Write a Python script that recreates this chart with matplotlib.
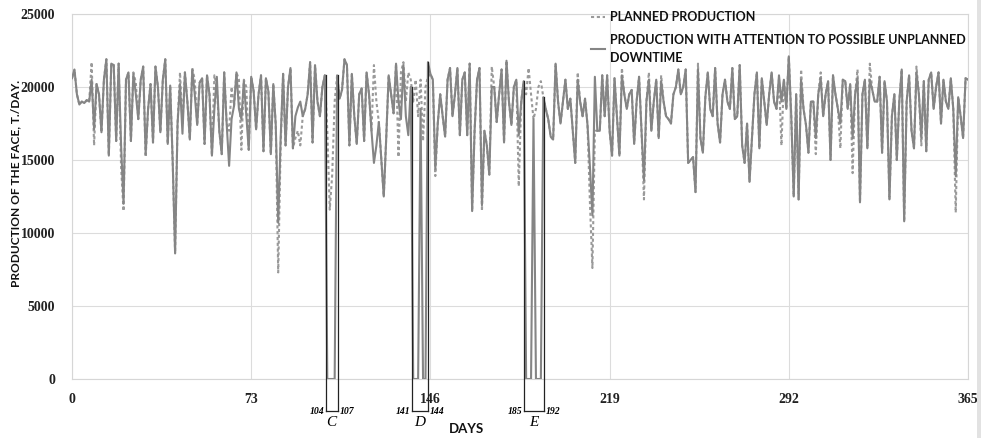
"""
Planned vs. actual face production over a year, with unplanned downtime windows C, D, E.
Writes out.png (985x438).
"""

import numpy as np
import matplotlib.pyplot as plt
from matplotlib.patches import Rectangle

# daily values, thousands of t/day, days 0..365
planned_k = [
    20.6, 21.2, 19.5, 18.8, 19.0, 18.9, 19.1, 19.0, 21.7, 16.0,
    20.2, 19.5, 16.9, 20.5, 21.9, 15.3, 21.6, 21.5, 16.3, 21.6,
    14.5, 11.5, 20.5, 21.0, 16.3, 21.0, 20.3, 17.8, 20.5, 21.4,
    15.2, 18.5, 20.2, 16.2, 21.4, 20.0, 16.9, 20.5, 21.9, 16.1,
    20.1, 15.0, 8.6, 17.5, 21.0, 17.5, 21.0, 19.0, 16.4, 21.3,
    20.5, 17.4, 20.3, 20.6, 16.1, 20.8, 19.5, 15.3, 20.8, 20.0,
    17.0, 15.4, 21.0, 17.5, 17.0, 20.0, 18.7, 21.0, 20.5, 15.7,
    20.5, 20.0, 15.7, 20.7, 19.7, 17.1, 19.5, 20.8, 15.6, 20.6,
    19.7, 15.4, 20.2, 17.4, 7.3, 16.0, 20.9, 16.0, 20.0, 21.3,
    15.8, 16.5, 17.0, 16.0, 18.0, 18.5, 19.5, 21.7, 16.2, 21.5,
    19.0, 18.0, 20.0, 20.8, 17.0, 11.6, 14.0, 19.0, 20.8, 19.2,
    19.8, 21.9, 21.5, 16.0, 20.9, 18.0, 16.1, 19.5, 19.9, 16.3,
    21.0, 19.5, 17.0, 21.5, 19.0, 17.6, 15.0, 12.5, 16.5, 20.8,
    19.5, 18.2, 21.6, 15.2, 21.0, 21.7, 19.0, 21.0, 20.5, 19.0,
    20.5, 18.0, 20.5, 16.3, 20.0, 20.7, 20.9, 20.5, 13.9, 17.5,
    19.5, 18.0, 16.6, 20.5, 21.3, 18.0, 19.5, 21.3, 16.7, 20.5,
    21.0, 16.7, 21.6, 11.5, 17.0, 20.5, 21.3, 11.5, 17.0, 16.0,
    14.0, 21.4, 20.0, 17.6, 19.5, 21.2, 16.2, 21.8, 19.0, 17.4,
    20.0, 20.5, 13.2, 19.0, 20.4, 19.5, 21.3, 19.5, 17.8, 18.5,
    20.0, 20.4, 19.3, 18.5, 17.8, 16.6, 16.4, 21.6, 19.0, 17.5,
    19.0, 20.5, 18.5, 19.2, 17.0, 14.8, 21.0, 19.0, 18.0, 19.2,
    17.4, 12.0, 7.6, 17.0, 17.0, 17.0, 20.8, 18.0, 20.8, 17.0,
    15.3, 20.6, 18.0, 15.3, 21.3, 19.5, 18.5, 19.5, 19.8, 16.1,
    19.0, 20.7, 17.0, 12.3, 19.0, 21.0, 17.0, 19.0, 20.5, 16.5,
    20.8, 19.0, 18.0, 17.8, 17.5, 19.5, 20.0, 21.2, 19.5, 20.0,
    21.2, 14.8, 15.0, 15.2, 12.8, 21.6, 16.5, 15.5, 19.3, 21.0,
    18.5, 18.0, 21.3, 17.5, 16.2, 19.5, 20.5, 19.0, 18.5, 21.3,
    17.8, 18.0, 21.5, 16.0, 14.8, 17.5, 13.5, 16.5, 19.5, 21.0,
    15.8, 20.6, 19.0, 17.4, 19.5, 21.0, 19.0, 18.5, 20.5, 16.0,
    20.5, 18.5, 22.1, 18.0, 12.5, 19.5, 12.3, 21.2, 18.5, 17.4,
    15.5, 19.0, 19.0, 15.4, 19.5, 21.0, 18.0, 19.5, 20.4, 15.0,
    20.8, 19.5, 18.5, 15.8, 20.5, 20.4, 18.5, 20.2, 14.1, 19.5,
    21.2, 12.1, 19.5, 20.5, 15.8, 21.6, 19.8, 19.0, 19.0, 20.7,
    15.5, 20.4, 19.0, 12.3, 18.0, 19.5, 15.0, 19.0, 21.2, 10.8,
    19.0, 20.8, 17.0, 15.8, 21.4, 19.5, 16.0, 20.4, 15.6, 20.5,
    21.0, 18.5, 20.0, 21.0, 17.5, 20.5, 19.0, 18.5, 20.6, 18.5,
    11.4, 19.3, 18.0, 16.5, 20.6, 20.5,
]

actual_k = [
    20.6, 21.2, 19.5, 18.8, 19.0, 18.9, 19.1, 19.0, 20.5, 17.1,
    20.2, 19.5, 16.9, 20.5, 21.9, 15.3, 21.6, 21.5, 16.3, 21.6,
    16.0, 12.0, 20.5, 21.0, 16.3, 20.9, 19.5, 17.8, 20.5, 21.4,
    15.4, 18.5, 20.2, 16.2, 21.4, 20.0, 16.9, 20.5, 21.9, 16.1,
    20.1, 15.0, 8.6, 17.5, 20.2, 16.8, 21.0, 19.0, 16.4, 21.2,
    19.5, 17.4, 20.3, 20.6, 16.1, 20.8, 19.5, 15.3, 18.5, 20.7,
    17.0, 15.4, 21.0, 17.5, 14.6, 17.8, 18.7, 21.0, 18.5, 17.8,
    20.4, 18.0, 15.7, 20.7, 19.7, 17.1, 19.5, 20.8, 15.6, 20.6,
    19.7, 15.4, 20.2, 17.4, 10.7, 16.5, 20.9, 16.0, 20.0, 21.3,
    15.8, 18.0, 18.6, 19.0, 18.0, 18.5, 19.5, 21.7, 16.2, 21.5,
    19.0, 18.0, 20.0, 20.8, 0, 0, 0, 0, 20.8, 19.2,
    19.8, 21.9, 21.5, 16.0, 20.9, 18.0, 16.1, 19.5, 19.9, 16.3,
    21.0, 19.5, 17.0, 14.8, 16.0, 17.6, 15.0, 12.5, 16.5, 20.8,
    19.5, 18.2, 21.6, 19.0, 17.8, 21.5, 18.0, 16.7, 20.0, 0,
    0, 0, 18.5, 0, 0, 21.7, 20.9, 20.5, 14.4, 17.5,
    19.5, 18.0, 16.6, 20.5, 21.3, 18.0, 19.5, 21.3, 16.7, 20.5,
    21.0, 16.7, 21.6, 11.5, 17.0, 20.5, 21.3, 11.9, 17.0, 16.0,
    14.0, 20.0, 20.0, 17.6, 19.5, 21.2, 16.2, 21.8, 19.0, 17.4,
    20.0, 20.5, 16.7, 19.0, 20.4, 0, 0, 0, 17.8, 0,
    0, 0, 19.3, 18.5, 17.8, 16.6, 16.4, 21.6, 19.0, 17.5,
    19.0, 20.5, 18.5, 19.2, 17.0, 14.8, 20.5, 19.0, 18.0, 19.2,
    17.4, 14.5, 11.2, 20.7, 17.0, 17.0, 20.8, 18.0, 20.8, 17.0,
    15.3, 20.6, 18.0, 15.3, 20.8, 19.5, 18.5, 19.5, 19.8, 16.1,
    19.0, 20.7, 17.0, 13.6, 19.0, 20.5, 17.0, 19.0, 20.5, 16.5,
    20.4, 19.0, 18.0, 17.8, 17.5, 19.5, 20.0, 21.2, 19.5, 20.0,
    21.2, 14.8, 15.0, 15.2, 12.8, 21.2, 16.5, 15.5, 19.3, 21.0,
    18.5, 18.0, 21.3, 17.5, 16.2, 19.5, 20.5, 19.0, 18.5, 21.3,
    17.8, 18.0, 21.5, 16.0, 14.8, 17.5, 13.5, 16.5, 19.5, 21.0,
    15.8, 20.6, 19.0, 17.4, 19.5, 21.0, 19.0, 18.5, 20.8, 19.0,
    20.5, 18.5, 22.1, 18.0, 12.5, 19.5, 12.3, 20.5, 18.5, 17.4,
    15.5, 19.0, 19.0, 16.5, 19.5, 20.6, 18.0, 19.5, 20.4, 15.0,
    20.8, 19.5, 18.5, 17.5, 20.5, 20.4, 18.5, 20.2, 16.5, 19.5,
    20.6, 12.1, 19.5, 20.5, 15.8, 20.5, 19.8, 19.0, 19.0, 20.7,
    15.5, 20.4, 19.0, 12.3, 18.0, 19.5, 15.0, 19.0, 21.2, 10.8,
    19.0, 20.8, 17.0, 15.8, 21.0, 19.5, 16.5, 20.4, 15.6, 20.5,
    21.0, 18.5, 20.0, 21.0, 17.5, 20.5, 19.0, 18.5, 20.6, 18.5,
    13.9, 19.3, 18.0, 16.5, 20.6, 20.5,
]

x_ticks = [0, 73, 146, 219, 292, 365]
y_ticks = [0, 5000, 10000, 15000, 20000, 25000]

# downtime windows: bracket edges (days), edge labels, letter
win_left = [103.3, 138.5, 184.0]
win_right = [108.3, 145.0, 192.2]
win_lab_left = ["104", "141", "185"]
win_lab_right = ["107", "144", "192"]
win_letter = ["C", "D", "E"]

SERIF = "Liberation Serif"
SANS = "Lato"


def main():
    days = np.arange(len(planned_k))
    planned = np.array(planned_k) * 1000
    actual = np.array(actual_k) * 1000

    fig = plt.figure(figsize=(9.85, 4.38), dpi=100)
    ax = fig.add_axes([72 / 985, 1 - 379 / 438, 896 / 985, 365 / 438])

    ax.plot(days, planned, color="#9a9a9a", lw=1.5, dashes=(1.5, 1.3),
            label="PLANNED PRODUCTION", zorder=2)
    ax.plot(days, actual, color="#858585", lw=1.5, solid_joinstyle="round",
            label="PRODUCTION WITH ATTENTION TO POSSIBLE UNPLANNED\nDOWNTIME", zorder=3)

    ax.set_xlim(0, 365)
    ax.set_ylim(0, 25000)
    ax.set_xticks(x_ticks)
    ax.set_yticks(y_ticks)
    ax.grid(True, color="#dcdcdc", lw=0.8)
    ax.set_axisbelow(True)
    for s in ax.spines.values():
        s.set_color("#d6d6d6")
        s.set_linewidth(0.8)
    ax.tick_params(length=0)
    ax.tick_params(axis="x", pad=10)
    ax.tick_params(axis="y", pad=12)
    for lab in ax.get_xticklabels() + ax.get_yticklabels():
        lab.set_family(SERIF)
        lab.set_fontweight("bold")
        lab.set_fontsize(10)
        lab.set_color("#222222")

    # brackets for the downtime windows C, D, E
    y_bot = -2200
    for xl, xr, ll, lr, let in zip(win_left, win_right, win_lab_left,
                                   win_lab_right, win_letter):
        yl = actual[int(round(xl))]
        yr = actual[int(round(xr))]
        kw = dict(color="#222222", lw=0.9, clip_on=False, zorder=4)
        ax.plot([xl, xl], [yl, y_bot], **kw)
        ax.plot([xr, xr], [yr, y_bot], **kw)
        ax.plot([xl, xr], [y_bot, y_bot], **kw)
        ax.text(xl - 0.6, y_bot, ll, ha="right", va="center", fontsize=7,
                family=SERIF, style="italic", weight="bold", clip_on=False)
        ax.text(xr + 0.6, y_bot, lr, ha="left", va="center", fontsize=7,
                family=SERIF, style="italic", weight="bold", clip_on=False)
        ax.text((xl + xr) / 2, y_bot - 800, let, ha="center", va="center",
                fontsize=11, family=SERIF, style="italic", clip_on=False)

    fig.text(467 / 985, 1 - 429 / 438, "DAYS", ha="center", va="center",
             family=SANS, weight="bold", fontsize=9.5, color="#111111")
    fig.text(16 / 985, 1 - 183 / 438, "PRODUCTION OF THE FACE, T./DAY.",
             rotation=90, ha="center", va="center", family=SANS,
             weight="bold", fontsize=8.6, color="#111111")

    leg = ax.legend(loc="upper left", bbox_to_anchor=(591 / 985, 1 - 11 / 438),
                    bbox_transform=fig.transFigure, frameon=False,
                    handlelength=1.1, handletextpad=0.45, borderpad=0,
                    borderaxespad=0, labelspacing=0.85,
                    prop=dict(family=SANS, weight="bold", size=9.0))
    for t in leg.get_texts():
        t.set_color("#111111")
        t.set_linespacing(1.6)

    # grey scanner edge at the right of the original figure
    fig.add_artist(Rectangle((977 / 985, 0), 4 / 985, 1, transform=fig.transFigure,
                             color="#e2e2e2", lw=0))

    fig.savefig("out.png", dpi=100, facecolor="white")
    plt.close(fig)


if __name__ == "__main__":
    main()
